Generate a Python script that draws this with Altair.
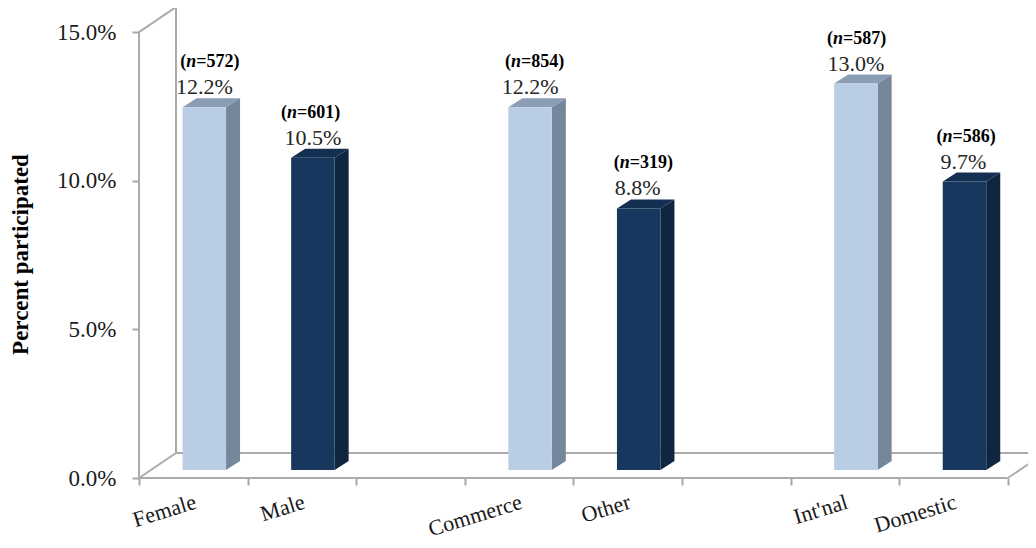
import altair as alt
import pandas as pd

categories = ["Female", "Male", "Commerce", "Other", "Int'nal", "Domestic"]
slots = [0, 1, 3, 4, 6, 7]
percent = [12.2, 10.5, 12.2, 8.8, 13.0, 9.7]
counts = [572, 601, 854, 319, 587, 586]
tiers = ["light", "dark", "light", "dark", "light", "dark"]
slot_labels = ["Female", "Male", "", "Commerce", "Other", "", "Int'nal", "Domestic", ""]

FONT = "Liberation Serif"
PX_X = 108.6   # pixels per category slot
PX_Y = 29.73   # pixels per percentage point
X0, Y0 = 131.0, 470.0  # plot-space position of slot 0 / value 0
W, H = 1020, 532


def ux(px):
    return px / PX_X


def uy(px):
    return px / PX_Y


x_scale = alt.Scale(domain=[-X0 / PX_X, (W - X0) / PX_X], range=[0, W], nice=False, zero=False)
y_scale = alt.Scale(domain=[-(H - Y0) / PX_Y, Y0 / PX_Y], range=[H, 0], nice=False, zero=False)

palette = {
    "light": ("#b9cde5", "#77879b", "#8b9db4"),
    "dark": ("#17375e", "#10253f", "#132f51"),
}

BAR_W, DEPTH_X, DEPTH_Y = ux(43.5), ux(14), uy(9)
SHIFT_X, LIFT = ux(11), uy(8)
WALL_X, WALL_Y = ux(37), uy(25)

fronts, sides, tops = [], [], []
values, n_a, n_b, n_c = [], [], [], []
value_nudge = [0, 0, 0, -1, 0, -1]
n_nudge = [6, -2, 5, 5, 1, 2]
for i, (cat, s, p, c, t) in enumerate(zip(categories, slots, percent, counts, tiers)):
    front, side, top_c = palette[t]
    left = s + 0.5 + SHIFT_X - BAR_W / 2
    right = left + BAR_W
    base = LIFT
    top = p + LIFT
    fronts.append(dict(cat=cat, x=left, x2=right, y=base, y2=top, fill=front))
    sides.append(dict(cat=cat, x=right, y=base, y2=top, fill=side))
    sides.append(dict(cat=cat, x=right + DEPTH_X, y=base + DEPTH_Y, y2=top + DEPTH_Y, fill=side))
    tops.append(dict(cat=cat, y=top, x=left, x2=right, fill=top_c))
    tops.append(dict(cat=cat, y=top + DEPTH_Y, x=left + DEPTH_X, x2=right + DEPTH_X, fill=top_c))
    cx = (left + right) / 2
    values.append(dict(x=cx + ux(value_nudge[i]), y=top + uy(20), text=f"{p:.1f}%"))
    start = cx + ux(n_nudge[i]) - ux(30)
    ny = top + uy(45)
    n_a.append(dict(x=start, y=ny, text="("))
    n_b.append(dict(x=start + ux(6), y=ny, text="n"))
    n_c.append(dict(x=start + ux(16), y=ny, text=f"={c})"))

right_front = 8
frame = [
    ("front_left", 0, 0, 0, 15),
    ("top_diag", 0, 15, WALL_X, 15 + WALL_Y),
    ("back_left", WALL_X, 0 + WALL_Y, WALL_X, 15 + WALL_Y),
    ("back_top", WALL_X, 15 + WALL_Y, 9, 15 + WALL_Y),
    ("back_floor", WALL_X, WALL_Y, 9, WALL_Y),
    ("floor_diag", 0, 0, WALL_X, WALL_Y),
    ("front_floor", 0, 0, right_front, 0),
    ("right_diag", right_front, 0, right_front + WALL_X, WALL_Y),
]
frame_rows = []
for name, a, b, c, d in frame:
    frame_rows.append(dict(seg=name, x=a, y=b))
    frame_rows.append(dict(seg=name, x=c, y=d))

x_axis = alt.Axis(
    title=None,
    values=list(range(9)),
    offset=-(H - Y0),
    domain=False,
    grid=False,
    tickColor="#a6a6a6",
    tickWidth=2,
    tickSize=7,
    labelExpr="%s[datum.value]" % str(slot_labels),
    labelFont=FONT,
    labelFontSize=22,
    labelColor="#1a1a1a",
    labelAngle=-17,
    labelAlign="right",
    labelBaseline="middle",
    labelOffset=56,
    labelPadding=16,
    labelOverlap=False,
    labelBound=False,
    labelFlush=False,
)
y_axis = alt.Axis(
    title="Percent participated",
    titleFont=FONT,
    titleFontSize=23,
    titleFontWeight="bold",
    titleColor="#000000",
    titleX=-107,
    titleY=246,
    titleAngle=-90,
    values=[0, 5, 10, 15],
    offset=-131,
    domain=False,
    grid=False,
    tickColor="#a6a6a6",
    tickWidth=2,
    tickSize=7,
    labelExpr="format(datum.value,'.1f')+'%'",
    labelFont=FONT,
    labelFontSize=23,
    labelColor="#1a1a1a",
    labelPadding=16,
)

xq = alt.X("x:Q", scale=x_scale, axis=x_axis)
yq = alt.Y("y:Q", scale=y_scale, axis=y_axis)
fill = alt.Color("fill:N", scale=None, legend=None)

frame_layer = (
    alt.Chart(pd.DataFrame(frame_rows))
    .mark_line(color="#ababab", strokeWidth=2, clip=True)
    .encode(x=xq, y=yq, detail="seg:N")
)

side_layer = (
    alt.Chart(pd.DataFrame(sides))
    .mark_area(orient="vertical")
    .encode(x=xq, y=yq, y2="y2:Q", color=fill, detail="cat:N")
)
top_layer = (
    alt.Chart(pd.DataFrame(tops))
    .mark_area(orient="horizontal")
    .encode(y=yq, x=xq, x2="x2:Q", color=fill, detail="cat:N")
)
front_layer = (
    alt.Chart(pd.DataFrame(fronts))
    .mark_bar()
    .encode(x=xq, x2="x2:Q", y=yq, y2="y2:Q", color=fill)
)


def text_layer(rows, **kw):
    return (
        alt.Chart(pd.DataFrame(rows))
        .mark_text(font=FONT, baseline="middle", **kw)
        .encode(x=xq, y=yq, text="text:N")
    )


chart = (
    alt.layer(
        frame_layer,
        side_layer,
        top_layer,
        front_layer,
        text_layer(values, fontSize=22, align="center", color="#262626"),
        text_layer(n_a, fontSize=18, fontWeight="bold", align="left", color="#000000"),
        text_layer(n_b, fontSize=18, fontWeight="bold", fontStyle="italic", align="left", color="#000000"),
        text_layer(n_c, fontSize=18, fontWeight="bold", align="left", color="#000000"),
    )
    .properties(width=W, height=H, padding=0, background="#ffffff", autosize=alt.AutoSizeParams(type="none"))
    .configure_view(strokeWidth=0, stroke="transparent")
)

chart.save("out.html", embed_options={"renderer": "svg", "actions": False})
